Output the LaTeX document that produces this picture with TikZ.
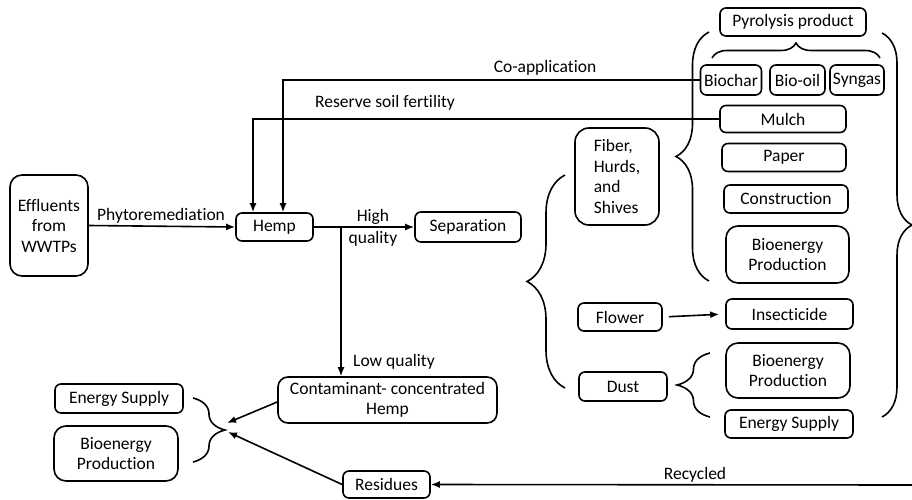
\documentclass[tikz,border=0pt]{standalone}
\usepackage{fontspec}
\setmainfont{Carlito}[Ligatures=CommonOff]
\usetikzlibrary{arrows.meta,decorations.pathreplacing}
\begin{document}
\begin{tikzpicture}[x=1pt,y=-1pt,line width=1.6pt,
  font=\fontsize{17.5}{20.5}\selectfont,
  box/.style={draw, rounded corners=6pt, inner sep=0pt, align=center},
  bigbox/.style={box, rounded corners=12pt},
  arr/.style={-{Latex[length=9pt,width=7pt]}},
  brc/.style={decorate, decoration={brace, amplitude=#1}},
  lbl/.style={inner sep=0pt}
]
\useasboundingbox (0,0) rectangle (912,500);

% nodes
\node[bigbox, minimum width=78pt, minimum height=101pt] (eff) at (49,225.5) {Effluents\\from\\WWTPs};
\node[box, minimum width=77pt, minimum height=28pt] (hemp) at (274.5,227) {Hemp};
\node[box, minimum width=106pt, minimum height=30pt] (sep) at (468,227) {Separation};
\node[bigbox, rounded corners=14pt, minimum width=84pt, minimum height=97pt, align=left] (fib) at (617,176.5) {Fiber,\\Hurds,\\and\\Shives};
\node[box, minimum width=146pt, minimum height=28pt] (pyro) at (793,22) {Pyrolysis product};
\node[box, minimum width=61pt, minimum height=30pt] (biochar) at (731,80) {Biochar};
\node[box, minimum width=55pt, minimum height=30pt] (biooil) at (797.5,80) {Bio-oil};
\node[box, minimum width=54pt, minimum height=30pt] (syngas) at (857,80) {Syngas};
\node[box, minimum width=126pt, minimum height=27pt] (mulch) at (783,119) {Mulch};
\node[box, minimum width=124pt, minimum height=28pt] (paper) at (784,157.5) {Paper};
\node[box, minimum width=124pt, minimum height=28pt] (constr) at (786,199) {Construction};
\node[bigbox, minimum width=123pt, minimum height=57pt] (bioA) at (787.5,254.5) {Bioenergy\\Production};
\node[box, minimum width=84pt, minimum height=28pt] (flower) at (620,317) {Flower};
\node[box, minimum width=127pt, minimum height=30pt] (insect) at (789.5,314) {Insecticide};
\node[box, minimum width=88pt, minimum height=29pt] (dust) at (623,386.5) {Dust};
\node[bigbox, minimum width=124pt, minimum height=55pt] (bioB) at (788,370.5) {Bioenergy\\Production};
\node[box, minimum width=128pt, minimum height=28pt] (esB) at (789,424) {Energy Supply};
\node[bigbox, rounded corners=10pt, minimum width=219pt, minimum height=46pt] (cont) at (387.5,400) {Contaminant- concentrated\\Hemp};
\node[box, minimum width=87pt, minimum height=27pt] (res) at (386.5,484.5) {Residues};
\node[box, minimum width=128pt, minimum height=29pt] (esA) at (119,398.5) {Energy Supply};
\node[bigbox, minimum width=124pt, minimum height=55pt] (bioC) at (116,453.5) {Bioenergy\\Production};

% coordinates
\coordinate (br) at (341,227);
\coordinate (conv1) at (227,423);
\coordinate (conv2) at (228,432);
\coordinate (rr) at (912,485);

% connectors
\draw[arr] (eff.east) -- (hemp.west);
\draw[arr] (hemp.east) -- (sep.west);
\draw[arr] (br) -- (br |- cont.north);
\draw[arr] (biochar.west) -| ([xshift=8.5pt]hemp.north);
\draw[arr] (mulch.west) -| ([xshift=-21.5pt]hemp.north);
\draw[arr, shorten <=6pt, shorten >=6pt] (flower.east) -- (insect.west);
\draw[arr] (cont.west |- 0,402) -- (conv1);
\draw[arr] (res.west) -- (conv2);
\draw[arr] (rr) -- (res.east);

% labels
\node[lbl] (l1) at (161,216) {Phytoremediation};
\node[lbl] (l2) at (373,217) {High};
\node[lbl] (l3) at (373,239) {quality};
\node[lbl] (l4) at (394,362) {Low quality};
\node[lbl] (l5) at (545,68) {Co-application};
\node[lbl] (l6) at (385,103) {Reserve soil fertility};
\node[lbl] (l7) at (695,475) {Recycled};

% braces
\draw[brc=32pt] (193,398) -- (193,462);
\draw[brc=38pt] (565,388) -- (565,175);
\draw[brc=33pt] (709,281) -- (709,32);
\draw[brc=33pt] (710,417) -- (710,353);
\draw[brc=30pt] (882,33) -- (882,417);
\draw[brc=15pt] (712,58) -- (880,58);
\end{tikzpicture}
\end{document}
